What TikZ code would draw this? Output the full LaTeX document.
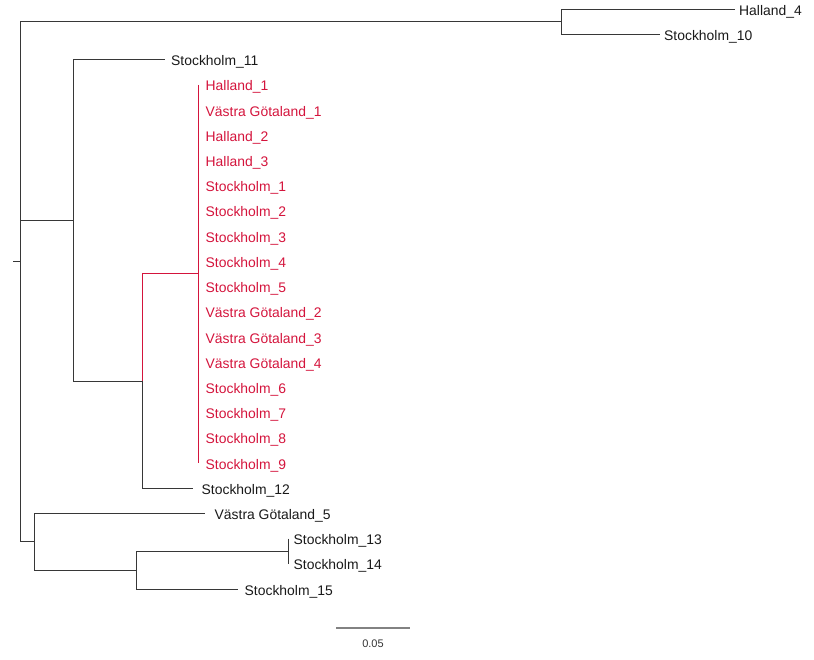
\documentclass[tikz,border=0pt]{standalone}
\usepackage{fontspec}
\setmainfont{Liberation Sans}
\usetikzlibrary{calc}
\definecolor{treegray}{RGB}{55,55,55}
\definecolor{clred}{RGB}{212,20,60}
\definecolor{bargray}{RGB}{130,130,130}
\begin{document}
\begin{tikzpicture}[x=1pt,y=-1pt,
  branch/.style={draw=treegray,line width=1pt},
  redbranch/.style={draw=clred,line width=1pt},
  leaf/.style={anchor=base west,inner sep=0pt,font=\fontsize{13.9}{16}\selectfont,text=black!90},
  redleaf/.style={leaf,text=clred},
  scalebar/.style={draw=bargray,line width=1.4pt},
  scalelabel/.style={inner sep=0pt,font=\fontsize{11}{13}\selectfont,text=black!80}]
\useasboundingbox (0,0) rectangle (814,660);
% internal nodes
\coordinate (rootstub) at (13,261.4);
\coordinate (root) at (20,261.4);
\coordinate (nA) at (561,21.9);
\coordinate (nB) at (73,220.4);
\coordinate (nC) at (142,381.15);
\coordinate (nRed) at (198,274.0);
\coordinate (nF) at (34,541.9);
\coordinate (nD) at (136,570.2);
\coordinate (nE) at (288,551.3);
% leaf tips
\coordinate (tH4) at (735,9.3);
\coordinate (tS10) at (660,34.51);
\coordinate (tS11) at (165,59.72);
\coordinate (tRtop) at (198,84.93);
\coordinate (tRbot) at (198,463.08);
\coordinate (tS12) at (193,488.29);
\coordinate (tVG5) at (205,513.5);
\coordinate (tS13) at (288,538.71);
\coordinate (tS14) at (288,563.92);
\coordinate (tS15) at (238,589.13);
% branches
\draw[branch] (rootstub) -- (root);
\draw[branch] (root) |- (nA);
\draw[branch] (root) |- (nB);
\draw[branch] (root) |- (nF);
\draw[branch] (nA) |- (tH4);
\draw[branch] (nA) |- (tS10);
\draw[branch] (nB) |- (tS11);
\draw[branch] (nB) |- (nC);
\draw[redbranch] (nC) |- (nRed);
\draw[branch] (nC) |- (tS12);
\draw[redbranch] (tRtop) -- (tRbot);
\draw[branch] (nF) |- (tVG5);
\draw[branch] (nF) |- (nD);
\draw[branch] (nD) |- (nE);
\draw[branch] (nD) |- (tS15);
\draw[branch] (tS13) -- (tS14);
% leaf labels
\node[leaf] (lH4) at ($(tH4)+(4,6)$) {Halland\_4};
\node[leaf] (lS10) at ($(tS10)+(4,6)$) {Stockholm\_10};
\node[leaf] (lS11) at ($(tS11)+(6,6)$) {Stockholm\_11};
\foreach \lab [count=\i from 0] in {Halland\_1,V\"astra G\"otaland\_1,Halland\_2,Halland\_3,Stockholm\_1,Stockholm\_2,Stockholm\_3,Stockholm\_4,Stockholm\_5,V\"astra G\"otaland\_2,V\"astra G\"otaland\_3,V\"astra G\"otaland\_4,Stockholm\_6,Stockholm\_7,Stockholm\_8,Stockholm\_9}
  \node[redleaf] (lR\i) at ($(tRtop)+(7.5,6+25.21*\i)$) {\lab};
\node[leaf] (lS12) at ($(tS12)+(8.5,6)$) {Stockholm\_12};
\node[leaf] (lVG5) at ($(tVG5)+(9.5,6)$) {V\"astra G\"otaland\_5};
\node[leaf] (lS13) at ($(tS13)+(5.5,6)$) {Stockholm\_13};
\node[leaf] (lS14) at ($(tS14)+(5.5,6)$) {Stockholm\_14};
\node[leaf] (lS15) at ($(tS15)+(6.5,6)$) {Stockholm\_15};
% scale bar
\coordinate (sb1) at (336,628);
\coordinate (sb2) at (410,628);
\draw[scalebar] (sb1) -- (sb2);
\node[scalelabel] (sblab) at (373,644) {0.05};
\end{tikzpicture}
\end{document}
